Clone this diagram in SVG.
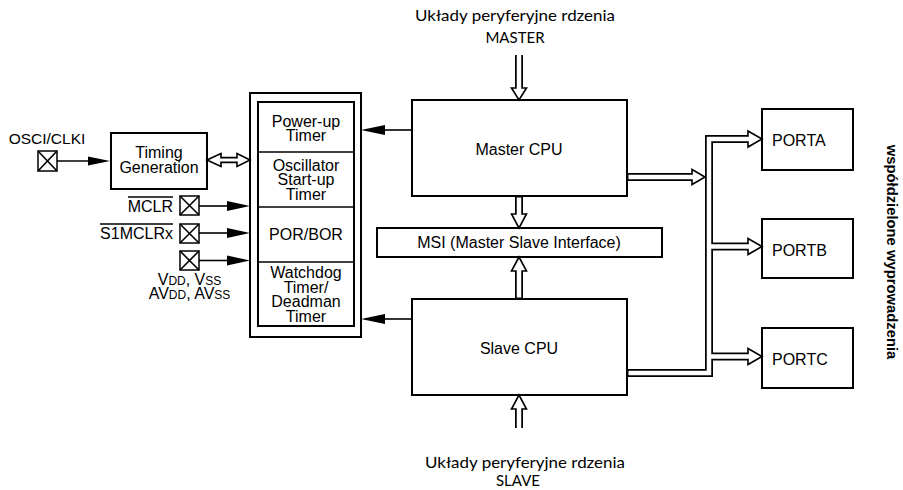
<svg xmlns="http://www.w3.org/2000/svg" width="903" height="490" viewBox="0 0 903 490">
<style>
.box{fill:#fff;stroke:#000;stroke-width:2}
.pin{fill:#fff;stroke:#000;stroke-width:1.5}
.t{font-family:"Liberation Sans",Arial,sans-serif;font-size:16px;fill:#000}
.c{text-anchor:middle}
.r{text-anchor:end}
.k{font-family:Lato,"Open Sans",sans-serif;font-size:16px;fill:#000;text-anchor:middle}
.w{font-family:"Liberation Sans",Arial,sans-serif;font-size:14.8px;font-weight:bold;fill:#000;text-anchor:middle}
.bo{stroke:#000;stroke-width:8;fill:none}
.bi{stroke:#fff;stroke-width:4.5;fill:none}
.to{stroke:#000;stroke-width:6.5;fill:none}
.ti{stroke:#fff;stroke-width:3;fill:none}
.hh{fill:#fff;stroke:#000;stroke-width:1.6}
.ln{stroke:#000;stroke-width:1.6;fill:none}
.ah{fill:#000}
.sm{font-size:12px}
</style>
<rect width="903" height="490" fill="#fff"/>

<g id="label-master-periph">
<text class="k" x="515" y="21" textLength="200" lengthAdjust="spacingAndGlyphs">Układy peryferyjne rdzenia</text>
<text class="k" x="515" y="43" style="font-size:15px">MASTER</text>
</g>
<g id="label-slave-periph">
<text class="k" x="525" y="468" textLength="200" lengthAdjust="spacingAndGlyphs">Układy peryferyjne rdzenia</text>
<text class="k" x="518" y="486" style="font-size:15px">SLAVE</text>
</g>
<g id="label-shared">
<text class="w" transform="translate(887,252) rotate(90)">współdzielone wyprowadzenia</text>
</g>

<g id="pin-osci">
<text class="t c" x="47" y="144" style="font-size:15.5px">OSCI/CLKI</text>
<rect class="pin" x="38" y="151" width="19" height="20"/>
<path class="ln" d="M38,151 L57,171 M57,151 L38,171"/>
</g>
<g id="timing-generation">
<rect class="box" x="111" y="133" width="96" height="56"/>
<text class="t c"><tspan x="159" y="158">Timing</tspan><tspan x="159" y="173">Generation</tspan></text>
</g>
<g id="pin-mclr">
<text class="t r" x="173" y="212">MCLR</text>
<line class="ln" x1="128" y1="197" x2="173" y2="197"/>
<rect class="pin" x="180" y="196" width="19" height="19"/>
<path class="ln" d="M180,196 L199,215 M199,196 L180,215"/>
</g>
<g id="pin-s1mclrx">
<text class="t r" x="173" y="239">S1MCLRx</text>
<line class="ln" x1="100" y1="224" x2="173" y2="224"/>
<rect class="pin" x="180" y="224" width="19" height="19"/>
<path class="ln" d="M180,224 L199,243 M199,224 L180,243"/>
</g>
<g id="pin-vdd">
<rect class="pin" x="180" y="251" width="19" height="19"/>
<path class="ln" d="M180,251 L199,270 M199,251 L180,270"/>
<text class="t c" x="189.5" y="285">V<tspan class="sm">DD</tspan>, V<tspan class="sm">SS</tspan></text>
<text class="t c" x="189.5" y="299">AV<tspan class="sm">DD</tspan>, AV<tspan class="sm">SS</tspan></text>
</g>

<g id="reset-block">
<rect class="box" x="250" y="93" width="111" height="244"/>
<rect class="box" x="258" y="102" width="96" height="224"/>
<line class="ln" x1="258" y1="152" x2="354" y2="152"/>
<line class="ln" x1="258" y1="207" x2="354" y2="207"/>
<line class="ln" x1="258" y1="262" x2="354" y2="262"/>
</g>
<g id="power-up-timer">
<text class="t c"><tspan x="306" y="126.5">Power-up</tspan><tspan x="306" y="140.5">Timer</tspan></text>
</g>
<g id="oscillator-start-up-timer">
<text class="t c"><tspan x="306" y="170.7">Oscillator</tspan><tspan x="306" y="185.2">Start-up</tspan><tspan x="306" y="199.7">Timer</tspan></text>
</g>
<g id="por-bor">
<text class="t c" x="306" y="240">POR/BOR</text>
</g>
<g id="watchdog-timer">
<text class="t c"><tspan x="306" y="278">Watchdog</tspan><tspan x="306" y="292.5">Timer/</tspan><tspan x="306" y="307">Deadman</tspan><tspan x="306" y="321.5">Timer</tspan></text>
</g>

<g id="master-cpu">
<rect class="box" x="412" y="100" width="215" height="96"/>
<text class="t c" x="519" y="155">Master CPU</text>
</g>
<g id="msi">
<rect class="box" x="377" y="228" width="285" height="29"/>
<text class="t c" x="519" y="248">MSI (Master Slave Interface)</text>
</g>
<g id="slave-cpu">
<rect class="box" x="412" y="299" width="215" height="96"/>
<text class="t c" x="519" y="354">Slave CPU</text>
</g>
<g id="porta">
<rect class="box" x="762" y="109" width="91" height="61"/>
<text class="t" x="772" y="146">PORTA</text>
</g>
<g id="portb">
<rect class="box" x="762" y="219" width="91" height="59"/>
<text class="t" x="772" y="256">PORTB</text>
</g>
<g id="portc">
<rect class="box" x="762" y="328" width="91" height="60"/>
<text class="t" x="772" y="365">PORTC</text>
</g>

<g id="connectors">
<path class="ln" d="M57,161 H90"/>
<polygon class="ah" points="88,156.5 110,161 88,165.5"/>
<path class="ln" d="M199,206 H229"/>
<polygon class="ah" points="227,201 250,206 227,211"/>
<path class="ln" d="M199,233 H229"/>
<polygon class="ah" points="227,228 250,233 227,238"/>
<path class="ln" d="M199,260.5 H229"/>
<polygon class="ah" points="227,255.5 250,260.5 227,265.5"/>
<path class="ln" d="M412,130 H383"/>
<polygon class="ah" points="385,125 361,130 385,135"/>
<path class="ln" d="M412,319 H383"/>
<polygon class="ah" points="385,314 361,319 385,324"/>

<path class="to" d="M221,160 H237"/>
<polygon class="hh" points="221,153.5 207,160 221,166.5"/>
<polygon class="hh" points="237,153.5 250,160 237,166.5"/>
<path class="ti" d="M219.5,160 H238.5"/>

<path class="bo" d="M519,55 V88"/>
<path class="bo" d="M519,196 V214"/>
<path class="bo" d="M519,299 V271"/>
<path class="bo" d="M519,428 V409"/>
<polygon class="hh" points="511.5,88 526.5,88 519,100"/>
<polygon class="hh" points="511.5,214 526.5,214 519,228"/>
<polygon class="hh" points="511.5,271 526.5,271 519,257"/>
<polygon class="hh" points="511.5,409 526.5,409 519,395"/>
<path class="bi" d="M519,55 V89.5"/>
<path class="bi" d="M519,197.5 V215.5"/>
<path class="bi" d="M519,297.5 V269.5"/>
<path class="bi" d="M519,428 V407.5"/>

<path class="bo" d="M627,177 H693"/>
<path class="bo" d="M748,139 H709 V373 H627"/>
<path class="bo" d="M709,246.5 H748"/>
<path class="bo" d="M709,356.5 H748"/>
<polygon class="hh" points="692,169.5 705,177 692,184.5"/>
<polygon class="hh" points="748,131 762,139 748,147"/>
<polygon class="hh" points="748,238.5 762,246.5 748,254.5"/>
<polygon class="hh" points="748,348.5 762,356.5 748,364.5"/>
<path class="bi" d="M628.5,177 H693.5"/>
<path class="bi" d="M749.5,139 H709 V373 H628.5"/>
<path class="bi" d="M709,246.5 H749.5"/>
<path class="bi" d="M709,356.5 H749.5"/>
</g>
</svg>
